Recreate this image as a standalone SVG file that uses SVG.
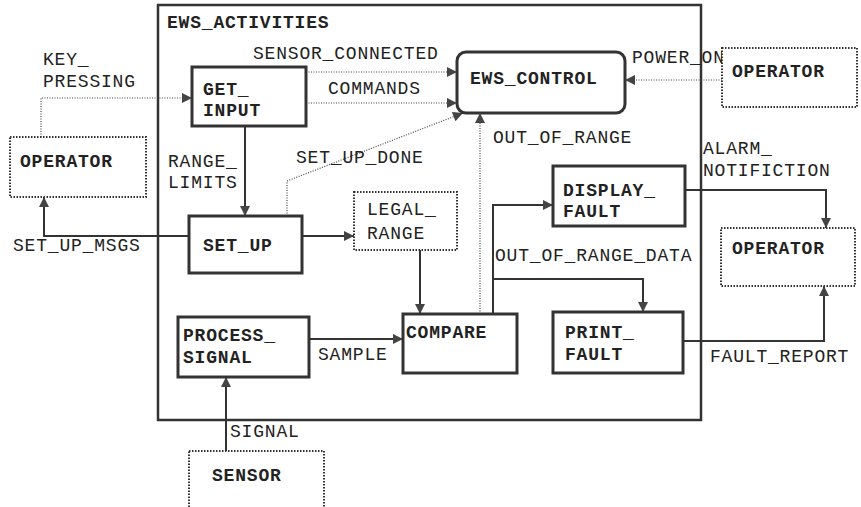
<svg xmlns="http://www.w3.org/2000/svg" width="861" height="507" viewBox="0 0 861 507">
<style>
text{font-family:"Liberation Mono","Courier New",monospace;font-size:18px;letter-spacing:0.8px;fill:#222}
.b{font-weight:bold}
.frame{fill:none;stroke:#333;stroke-width:2.5}
.box{fill:#fff;stroke:#333;stroke-width:3}
.ext{fill:#fff;stroke:#333;stroke-width:2;stroke-dasharray:1.5 1.5}
.sol{fill:none;stroke:#333;stroke-width:2}
.dot{fill:none;stroke:#444;stroke-width:1.2;stroke-dasharray:1 1.5}
</style>
<defs>
<marker id="ah" viewBox="0 0 10 10" refX="10" refY="5" markerWidth="12" markerHeight="10" markerUnits="userSpaceOnUse" orient="auto">
<path d="M0,0 L10,5 L0,10 z" fill="#444"/>
</marker>
</defs>
<rect width="861" height="507" fill="#fff"/>
<g id="ews_activities">
<rect class="frame" x="158" y="5" width="543" height="415"/>
<text class="b" x="167" y="28">EWS_ACTIVITIES</text>
</g>
<g id="connectors">
<polyline class="dot" points="41,137 41,98 192,98" marker-end="url(#ah)"/>
<line class="dot" x1="306" y1="72" x2="457" y2="72" marker-end="url(#ah)"/>
<line class="dot" x1="306" y1="103" x2="457" y2="103" marker-end="url(#ah)"/>
<polyline class="dot" points="287,216 287,181 463,113" marker-end="url(#ah)"/>
<line class="sol" x1="245" y1="126" x2="245" y2="216" marker-end="url(#ah)"/>
<polyline class="sol" points="189,236 44,236 44,197" marker-end="url(#ah)"/>
<line class="sol" x1="302" y1="236" x2="354" y2="236" marker-end="url(#ah)"/>
<line class="sol" x1="420" y1="250" x2="420" y2="314" marker-end="url(#ah)"/>
<line class="sol" x1="309" y1="339" x2="403" y2="339" marker-end="url(#ah)"/>
<line class="sol" x1="226" y1="451" x2="226" y2="377" marker-end="url(#ah)"/>
<line class="dot" x1="480" y1="314" x2="480" y2="113" marker-end="url(#ah)"/>
<polyline class="sol" points="493,314 493,205 553,205" marker-end="url(#ah)"/>
<polyline class="sol" points="493,279 643,279 643,312" marker-end="url(#ah)"/>
<line class="dot" x1="722" y1="80" x2="625" y2="80" marker-end="url(#ah)"/>
<polyline class="sol" points="685,190 826,190 826,228" marker-end="url(#ah)"/>
<polyline class="sol" points="683,341 824,341 824,286" marker-end="url(#ah)"/>
<text x="43" y="65">KEY_</text>
<text x="43" y="87">PRESSING</text>
<text x="253" y="59">SENSOR_CONNECTED</text>
<text x="328" y="94">COMMANDS</text>
<text x="296" y="163">SET_UP_DONE</text>
<text x="168" y="167">RANGE_</text>
<text x="168" y="188">LIMITS</text>
<text x="13" y="251">SET_UP_MSGS</text>
<text x="318" y="360">SAMPLE</text>
<text x="230" y="437">SIGNAL</text>
<text x="493" y="143">OUT_OF_RANGE</text>
<text x="495" y="261">OUT_OF_RANGE_DATA</text>
<text x="632" y="63">POWER_ON</text>
<text x="703" y="154">ALARM_</text>
<text x="703" y="176">NOTIFICTION</text>
<text x="710" y="362">FAULT_REPORT</text>
</g>
<g id="get_input">
<rect class="box" x="192" y="67" width="114" height="59"/>
<text class="b" x="203" y="95">GET_</text>
<text class="b" x="203" y="116">INPUT</text>
</g>
<g id="set_up">
<rect class="box" x="189" y="216" width="113" height="57"/>
<text class="b" x="203" y="251">SET_UP</text>
</g>
<g id="legal_range">
<rect class="ext" x="354" y="192" width="103" height="58"/>
<text x="367" y="215">LEGAL_</text>
<text x="367" y="239">RANGE</text>
</g>
<g id="compare">
<rect class="box" x="403" y="314" width="114" height="59"/>
<text class="b" x="406" y="338">COMPARE</text>
</g>
<g id="process_signal">
<rect class="box" x="178" y="317" width="131" height="60"/>
<text class="b" x="183" y="341">PROCESS_</text>
<text class="b" x="183" y="363">SIGNAL</text>
</g>
<g id="display_fault">
<rect class="box" x="553" y="166" width="132" height="60"/>
<text class="b" x="563" y="196">DISPLAY_</text>
<text class="b" x="563" y="217">FAULT</text>
</g>
<g id="print_fault">
<rect class="box" x="553" y="312" width="130" height="61"/>
<text class="b" x="565" y="338">PRINT_</text>
<text class="b" x="565" y="360">FAULT</text>
</g>
<g id="ews_control">
<rect class="box" x="457" y="52" width="168" height="61" rx="9"/>
<text class="b" x="470" y="84">EWS_CONTROL</text>
</g>
<g id="operator_power">
<rect class="ext" x="722" y="48" width="135" height="59"/>
<text class="b" x="732" y="77">OPERATOR</text>
</g>
<g id="operator_alarm">
<rect class="ext" x="721" y="228" width="134" height="58"/>
<text class="b" x="732" y="254">OPERATOR</text>
</g>
<g id="operator_keys">
<rect class="ext" x="10" y="137" width="136" height="60"/>
<text class="b" x="20" y="167">OPERATOR</text>
</g>
<g id="sensor">
<rect class="ext" x="189" y="451" width="135" height="70"/>
<text class="b" x="212" y="481">SENSOR</text>
</g>
</svg>
